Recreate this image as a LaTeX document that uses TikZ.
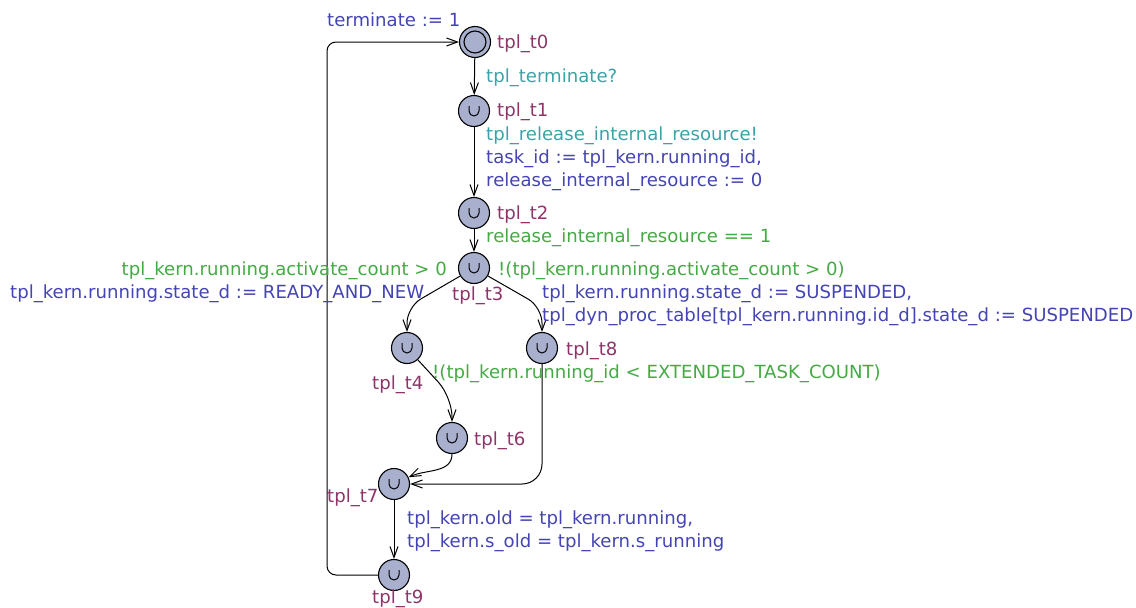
\documentclass[tikz,border=0pt]{standalone}
\usepackage{fontspec}
\setmainfont{DejaVu Sans}
\usetikzlibrary{arrows.meta}
\definecolor{locname}{RGB}{142,52,104}
\definecolor{syncc}{RGB}{58,163,168}
\definecolor{assignc}{RGB}{68,68,180}
\definecolor{guardc}{RGB}{68,170,68}
\definecolor{locfill}{RGB}{168,176,206}
\tikzset{
  x=1pt,y=1pt,
  loc/.style={circle,draw=black,line width=1.1pt,fill=locfill,minimum size=31pt,inner sep=0pt},
  urgent/.style={loc,path picture={\draw[line width=1pt] ([shift={(-5,5)}]path picture bounding box.center) -- ++(0,-5) arc[start angle=180,end angle=360,radius=5] -- ++(0,5);}},
  initloc/.style={loc,path picture={\draw[line width=1.1pt] (path picture bounding box.center) circle[radius=11];}},
  txt/.style={font=\fontsize{18.1}{21}\selectfont,inner sep=0pt,anchor=base west},
  lname/.style={txt,text=locname},
  syn/.style={txt,text=syncc},
  asg/.style={txt,text=assignc},
  grd/.style={txt,text=guardc},
  edge/.style={line width=1pt,-{Straight Barb[length=11pt,width=8pt,line width=1pt]}},
}
\begin{document}
\begin{tikzpicture}
\useasboundingbox (0,0) rectangle (1136,-608);
% locations
\node[initloc] (t0) at (475,-42) {};
\node[urgent] (t1) at (474,-111) {};
\node[urgent] (t2) at (474,-213) {};
\node[urgent] (t3) at (474,-268) {};
\node[urgent] (t4) at (407,-348) {};
\node[urgent] (t8) at (542,-348) {};
\node[urgent] (t6) at (452,-438) {};
\node[urgent] (t7) at (394,-484) {};
\node[urgent] (t9) at (394,-575) {};
% location names
\node[lname] (n0) at (497,-48) {tpl\_t0};
\node[lname] (n1) at (497,-116) {tpl\_t1};
\node[lname] (n2) at (497,-219) {tpl\_t2};
\node[lname] (n3) at (452,-300) {tpl\_t3};
\node[lname] (n8) at (566,-355) {tpl\_t8};
\node[lname] (n4) at (372,-389) {tpl\_t4};
\node[lname] (n6) at (474,-445) {tpl\_t6};
\node[lname] (n7) at (327,-502) {tpl\_t7};
\node[lname] (n9) at (372,-603) {tpl\_t9};
% edges
\coordinate (c93) at (327,-575);
\coordinate (c90) at (327,-42);
\draw[edge,rounded corners=9pt] (t9) -- (c93) -- (c90) -- (t0);
\draw[edge] (t0) -- (t1);
\draw[edge] (t1) -- (t2);
\draw[edge] (t2) -- (t3);
\coordinate (c34) at (407,-307);
\coordinate (c38) at (542,-307);
\draw[edge,rounded corners=16pt] (t3) -- (c34) -- (t4);
\draw[edge,rounded corners=16pt] (t3) -- (c38) -- (t8);
\coordinate (c46) at (452,-397);
\draw[edge,rounded corners=20pt] (t4) -- (c46) -- (t6);
\draw[edge] (t6.south) to[out=-90,in=25] (t7);
\coordinate (c87) at (542,-484);
\draw[edge,rounded corners=20pt] (t8) -- (c87) -- (t7);
\draw[edge] (t7) -- (t9);
% edge labels
\node[asg] (a0) at (327,-26) {terminate := 1};
\node[syn] (s01) at (486,-82) {tpl\_terminate?};
\node[syn] (s12) at (486,-140) {tpl\_release\_internal\_resource!};
\node[asg] (a12a) at (486,-163) {task\_id := tpl\_kern.running\_id,};
\node[asg] (a12b) at (486,-186) {release\_internal\_resource := 0};
\node[grd] (g23) at (486,-242) {release\_internal\_resource == 1};
\node[grd,anchor=base east] (g34) at (447,-275) {tpl\_kern.running.activate\_count > 0};
\node[asg] (a34) at (10,-298) {tpl\_kern.running.state\_d := READY\_AND\_NEW};
\node[grd] (g38) at (498,-275) {!(tpl\_kern.running.activate\_count > 0)};
\node[asg] (a38a) at (542,-298) {tpl\_kern.running.state\_d := SUSPENDED,};
\node[asg] (a38b) at (542,-321) {tpl\_dyn\_proc\_table[tpl\_kern.running.id\_d].state\_d := SUSPENDED};
\node[grd] (g46) at (432,-378) {!(tpl\_kern.running\_id < EXTENDED\_TASK\_COUNT)};
\node[asg] (a79a) at (407,-524) {tpl\_kern.old = tpl\_kern.running,};
\node[asg] (a79b) at (407,-547) {tpl\_kern.s\_old = tpl\_kern.s\_running};
\end{tikzpicture}
\end{document}
